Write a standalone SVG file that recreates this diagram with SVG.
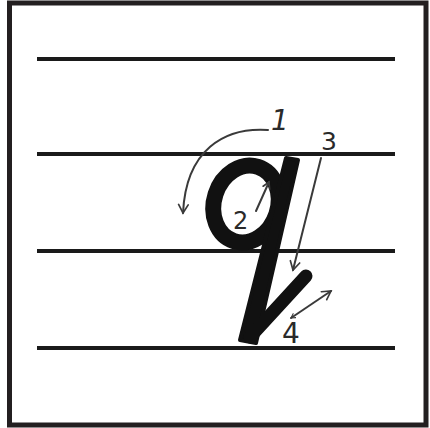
<svg xmlns="http://www.w3.org/2000/svg" width="430" height="428" viewBox="0 0 430 428">
<style>
.rule{stroke:#1a1a1a;stroke-width:4;fill:none}
.ink{stroke:#111;fill:none;stroke-linecap:round}
.guide{stroke:#3a3a3a;stroke-width:2;fill:none;stroke-linecap:round}
.lbl{font-family:"DejaVu Sans","Liberation Sans",sans-serif;fill:#2a2a2a;font-weight:normal}
</style>
<defs>
<marker id="ah" viewBox="0 0 10 10" refX="8" refY="5" markerWidth="6" markerHeight="6" orient="auto-start-reverse" markerUnits="userSpaceOnUse">
<path d="M1,1 L8,5 L1,9" fill="none" stroke="#3a3a3a" stroke-width="1.8" stroke-linecap="round"/>
</marker>
<marker id="ah2" viewBox="0 0 10 10" refX="8" refY="5" markerWidth="12" markerHeight="12" orient="auto-start-reverse" markerUnits="userSpaceOnUse">
<path d="M1,1 L8,5 L1,9" fill="none" stroke="#3a3a3a" stroke-width="1.4" stroke-linecap="round"/>
</marker>
<marker id="ah3" viewBox="0 0 10 10" refX="8" refY="5" markerWidth="9" markerHeight="9" orient="auto-start-reverse" markerUnits="userSpaceOnUse">
<path d="M1,1 L8,5 L1,9" fill="none" stroke="#3a3a3a" stroke-width="1.8" stroke-linecap="round"/>
</marker>
</defs>
<rect x="0" y="0" width="430" height="428" fill="#fff"/>
<rect id="frame" x="9.5" y="3" width="416.5" height="422" fill="none" stroke="#231f20" stroke-width="5"/>
<g id="ruling">
<line class="rule" x1="37" y1="59" x2="395" y2="59"/>
<line class="rule" x1="37" y1="154" x2="395" y2="154"/>
<line class="rule" x1="37" y1="251" x2="395" y2="251"/>
<line class="rule" x1="37" y1="348" x2="395" y2="348"/>
</g>
<g id="letter-q">
<ellipse class="ink" cx="246" cy="204" rx="32" ry="39" stroke-width="16" transform="rotate(18 246 204)"/>
<path d="M286,158 L298,160 L256,343 L240,340 Z" fill="#111" stroke="#111" stroke-width="4" stroke-linejoin="round"/>
<line class="ink" x1="250" y1="337" x2="306" y2="276" stroke-width="13"/>
</g>
<g id="connectors">
<path class="guide" d="M268,130 C224,127 186,150 183,213" marker-end="url(#ah2)"/>
<path class="guide" d="M256,211 L269,182" marker-end="url(#ah3)"/>
<path class="guide" d="M321,158 L293,270" marker-end="url(#ah2)"/>
<path class="guide" d="M291,318 L331,291" marker-end="url(#ah2)" marker-start="url(#ah)"/>
</g>
<g id="label-1"><text class="lbl" x="271" y="130" font-size="28" font-style="italic">1</text></g>
<g id="label-2"><text class="lbl" x="233" y="229" font-size="24">2</text></g>
<g id="label-3"><text class="lbl" x="321" y="150" font-size="25">3</text></g>
<g id="label-4"><text class="lbl" x="282" y="343" font-size="28">4</text></g>
</svg>
